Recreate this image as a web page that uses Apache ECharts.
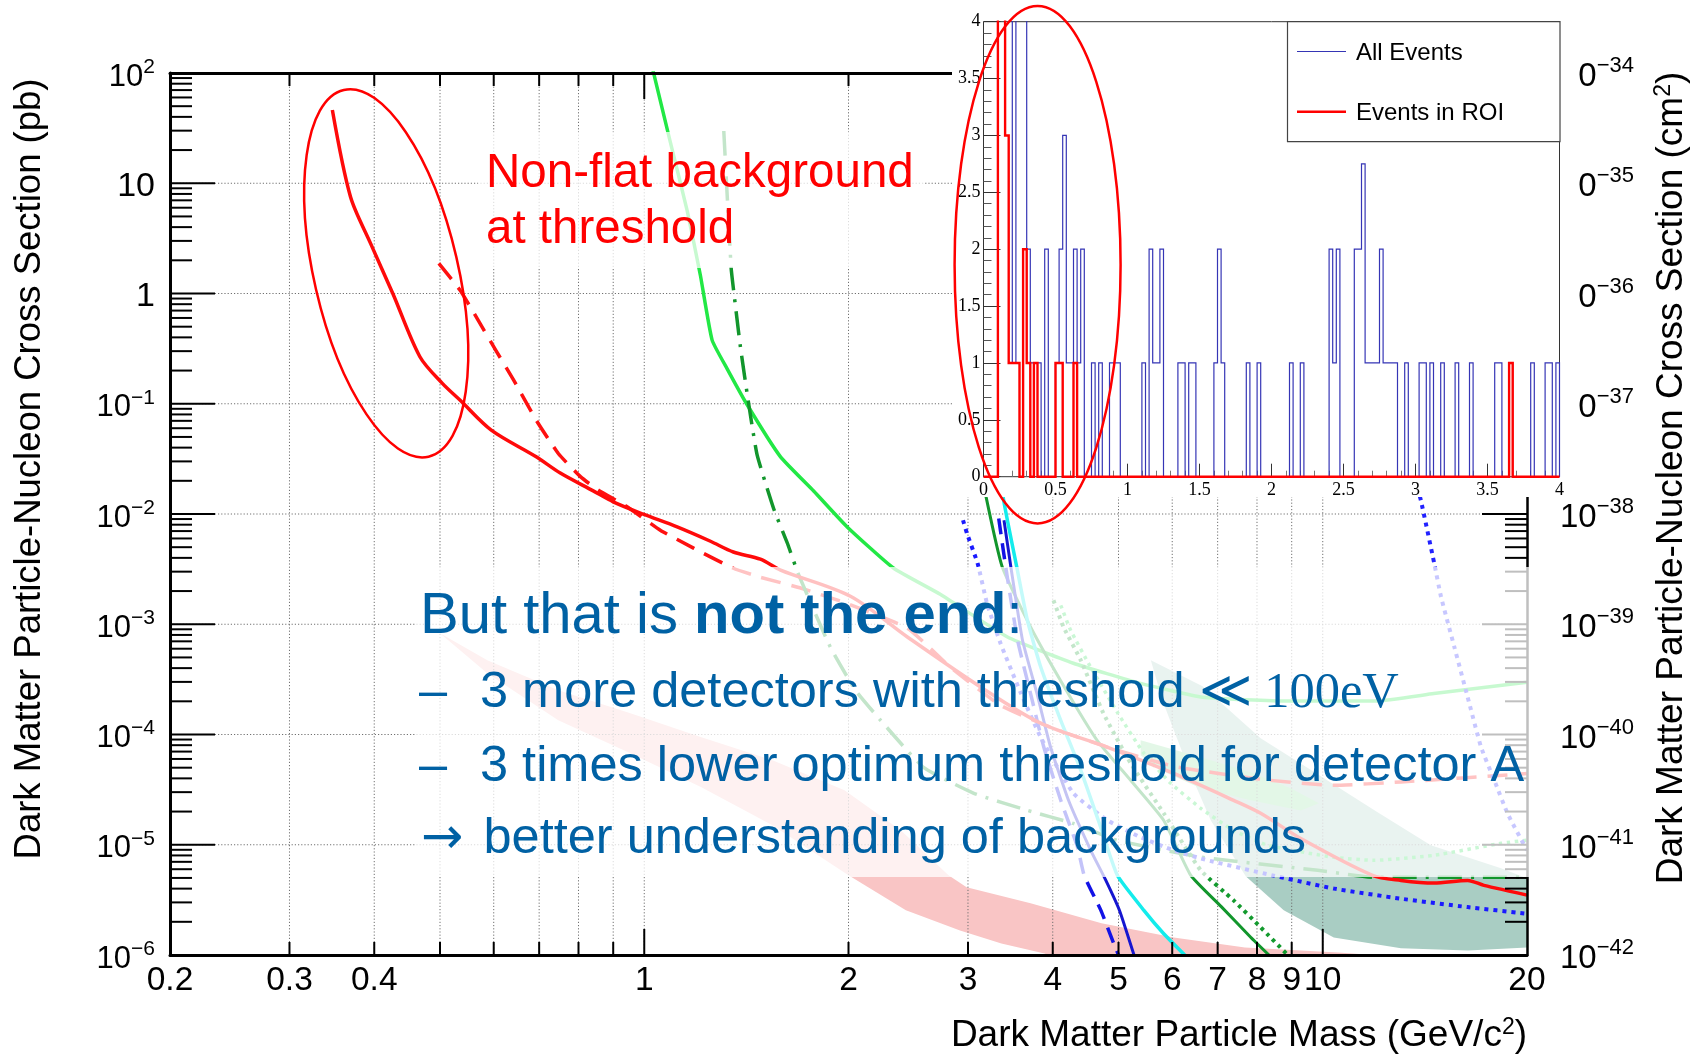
<!DOCTYPE html>
<html>
<head>
<meta charset="utf-8">
<script src="https://cdn.jsdelivr.net/npm/echarts@6/dist/echarts.min.js"></script>
<style>
html, body { margin: 0; padding: 0; background: #ffffff; }
#chart { width: 1701px; height: 1054px; }
</style>
</head>
<body>
<div id="chart"></div>
<script>
// ---------------------------------------------------------------
// Spin-independent exclusion limits: WIMP mass (GeV/c^2) vs
// WIMP-nucleon cross section (pb), plus the low-energy event
// histogram shown as an inset.
// ---------------------------------------------------------------

// solid red limit
const redSolidMass  = [0.347, 0.369, 0.395, 0.426, 0.467, 0.504, 0.535, 0.595, 0.693, 0.752, 0.841, 0.900, 0.997, 1.118, 1.252, 1.353, 1.483, 1.588, 2.013, 2.442, 3.13, 3.84, 4.81, 6.03, 7.39, 8.10, 9.28, 11.84, 13.04, 14.58, 16.35, 17.28, 20.0];
const redSolidSigma = [46.2, 7.54, 2.85, 1.0, 0.267, 0.153, 0.108, 0.0576, 0.033, 0.0235, 0.0162, 0.0129, 0.00996, 0.00764, 0.00566, 0.00452, 0.00389, 0.0031, 0.001795, 0.000767, 0.00027, 0.0001264, 7.7e-5, 4.44e-5, 2.53e-5, 1.93e-5, 1.14e-5, 5.28e-6, 4.75e-6, 4.49e-6, 4.75e-6, 4.28e-6, 3.49e-6];

// dashed red limit
const redDashedMass  = [0.498, 0.535, 0.569, 0.604, 0.642, 0.693, 0.747, 0.806, 0.856, 0.941, 1.056, 1.182, 1.353, 1.483, 1.704, 1.966, 2.442, 2.828, 3.35, 3.97, 4.82, 6.03, 8.10, 10.38, 13.04, 20.0];
const redDashedSigma = [1.876, 1.074, 0.574, 0.3065, 0.1637, 0.071, 0.0354, 0.0217, 0.01644, 0.01177, 0.00713, 0.0049, 0.00322, 0.00267, 0.00212, 0.001584, 0.00092, 0.000407, 0.000184, 0.0001162, 7.65e-5, 5.15e-5, 3.92e-5, 3.46e-5, 3.71e-5, 4.42e-5];

// light green solid limit
const greenSolidMass  = [1.016, 1.093, 1.157, 1.21, 1.259, 1.325, 1.418, 1.588, 1.777, 1.991, 2.332, 2.73, 3.43, 4.29, 5.39, 6.65, 8.91, 11.96, 14.58, 20.0];
const greenSolidSigma = [150, 23.35, 5.62, 1.457, 0.3777, 0.2074, 0.0979, 0.033, 0.01617, 0.00764, 0.00322, 0.00187, 0.000767, 0.000443, 0.000291, 0.000218, 0.000201, 0.000201, 0.000235, 0.000298];

// dark green dash-dotted limit
const greenDashDotMass  = [1.31, 1.343, 1.354, 1.386, 1.426, 1.467, 1.552, 1.626, 1.686, 1.88, 2.048, 2.23, 2.58, 3.06, 3.67, 4.29, 4.97, 6.65, 9.83, 11.96, 20.0];
const greenDashDotSigma = [29.3, 1.70, 1.078, 0.3264, 0.0979, 0.0342, 0.0111, 0.0054, 0.00288, 0.000622, 0.000252, 0.0001346, 5.04e-5, 2.93e-5, 2.05e-5, 1.56e-5, 1.1e-5, 7.69e-6, 5.86e-6, 5.06e-6, 5.06e-6];

// dark green solid limit
const darkGreenMass  = [3.08, 3.19, 3.37, 3.71, 4.16, 4.65, 5.21, 5.83, 6.39, 7.08, 7.83, 8.33];
const darkGreenSigma = [0.0468, 0.01429, 0.00331, 0.000945, 0.00027, 8.86e-5, 3.84e-5, 1.66e-5, 5.28e-6, 2.76e-6, 1.45e-6, 1.0e-6];

// cyan solid limit
const cyanMass  = [3.33, 3.38, 3.54, 3.67, 3.84, 4.11, 4.40, 4.67, 4.98, 5.45, 5.83, 6.26];
const cyanSigma = [0.0468, 0.01429, 0.00331, 0.001087, 0.00041, 0.0001346, 4.73e-5, 1.66e-5, 5.28e-6, 2.54e-6, 1.56e-6, 1.0e-6];

// blue dashed limit
const blueDashedMass  = [3.33, 3.41, 3.55, 3.71, 3.88, 4.11, 4.35, 4.45, 4.71, 4.92, 5.0];
const blueDashedSigma = [0.0091, 0.00331, 0.000716, 0.000235, 7.7e-5, 2.53e-5, 9.53e-6, 5.28e-6, 2.54e-6, 1.27e-6, 1.0e-6];

// blue solid limit
const blueSolidMass  = [3.39, 3.47, 3.61, 3.79, 3.97, 4.22, 4.55, 4.79, 5.02, 5.27];
const blueSolidSigma = [0.00878, 0.00331, 0.000716, 0.000237, 7.7e-5, 2.53e-5, 8.9e-6, 4.75e-6, 2.51e-6, 1.0e-6];

// blue dotted limit (low mass)
const blueDottedMass  = [2.95, 2.99, 3.10, 3.20, 3.35, 3.59, 3.84, 4.29, 4.82, 5.39, 6.03, 6.77, 8.43, 10.39, 13.04, 16.35, 20.0];
const blueDottedSigma = [0.00878, 0.00665, 0.003556, 0.00155, 0.000672, 0.000237, 9.43e-5, 2.93e-5, 1.66e-5, 1.17e-5, 8.9e-6, 7.22e-6, 5.28e-6, 4.0e-6, 3.24e-6, 2.72e-6, 2.37e-6];

// blue dotted limit (high mass)
const blueDotted2Mass  = [13.58, 13.95, 14.6, 14.94, 15.63, 16.35, 17.11, 17.9, 18.73, 20.0];
const blueDotted2Sigma = [0.02496, 0.01334, 0.003556, 0.00177, 0.000622, 0.000219, 7.7e-5, 3.84e-5, 1.91e-5, 8.9e-6];

// dark green dotted limit
const darkGreenDotMass  = [4.01, 4.15, 4.40, 4.75, 5.21, 5.83, 6.61, 7.39, 8.10, 8.88];
const darkGreenDotSigma = [0.00165, 0.00094, 0.000471, 0.0001558, 5.48e-5, 1.93e-5, 5.86e-6, 3.13e-6, 1.78e-6, 1.0e-6];

// light green dotted limit
const greenDotMass  = [4.11, 4.25, 4.55, 4.99, 5.45, 5.97, 6.61, 7.39, 8.30, 10.38, 11.89, 14.58, 18.31, 20.0];
const greenDotSigma = [0.001487, 0.000882, 0.000407, 0.0001558, 6.75e-5, 3.61e-5, 2.14e-5, 1.35e-5, 9.88e-6, 7.69e-6, 7.22e-6, 8.01e-6, 1.03e-5, 1.1e-5];

// shaded regions (outline vertices)
const pinkBandMass  = [0.500, 0.587, 0.747, 0.954, 1.214, 1.545, 1.973, 2.39, 2.808, 2.986, 3.71, 4.72, 6.03, 7.68, 10.53, 13.95, 4.71, 3.89, 3.36, 2.92, 2.43, 2.0, 1.545, 1.214, 0.954, 0.747, 0.587];
const pinkBandSigma = [8.29e-4, 4.71e-4, 2.52e-4, 1.558e-4, 9.43e-5, 5.83e-5, 3.12e-5, 1.35e-5, 5.28e-6, 4.11e-6, 2.94e-6, 1.94e-6, 1.44e-6, 1.17e-6, 1.056e-6, 9.3e-7, 6.5e-7, 1.03e-6, 1.27e-6, 1.67e-6, 2.54e-6, 5.28e-6, 1.5e-5, 3.32e-5, 6.75e-5, 1.346e-4, 3.59e-4];

const tealMass  = [5.58, 6.65, 8.10, 9.83, 11.98, 14.43, 18.31, 20.0, 20.0, 16.37, 13.04, 10.38, 8.76, 7.70, 6.84, 6.39, 5.81];
const tealSigma = [4.71e-4, 2.74e-4, 9.24e-5, 4.35e-5, 2.01e-5, 9.88e-6, 6.11e-6, 4.96e-6, 1.17e-6, 1.1e-6, 1.15e-6, 1.44e-6, 2.54e-6, 5.17e-6, 1.66e-5, 4.35e-5, 2.0e-4];

const greenRegionMass  = [5.39, 6.61, 7.83, 8.97, 9.87, 9.28, 7.83, 6.61, 5.77, 5.39];
const greenRegionSigma = [8.86e-5, 6.21e-5, 4.54e-5, 3.25e-5, 2.38e-5, 2.05e-5, 2.53e-5, 3.25e-5, 4.73e-5, 6.48e-5];

// inset histogram: bin index (width 0.025) and counts
const allEventBins   = [4, 5, 6, 7, 8, 9, 10, 11, 12, 13, 14, 15, 17, 20, 21, 22, 23, 24, 25, 26, 27, 30, 32, 35, 36, 37, 44, 46, 47, 48, 49, 54, 55, 57, 58, 64, 65, 66, 73, 76, 85, 88, 96, 97, 98, 103, 104, 105, 106, 107, 108, 109, 110, 111, 112, 113, 114, 117, 121, 122, 124, 127, 131, 135, 142, 143, 146, 152, 156, 157, 159];
const allEventCounts = [6, 5, 7, 5, 1, 5, 6, 5, 2, 1, 1, 1, 2, 1, 2, 3, 1, 1, 2, 1, 2, 1, 1, 1, 1, 1, 1, 2, 1, 1, 2, 1, 1, 1, 1, 1, 2, 1, 1, 1, 1, 1, 2, 1, 2, 2, 2, 2.75, 1, 1, 1, 1, 2, 1, 1, 1, 1, 1, 1, 1, 1, 1, 1, 1, 1, 1, 1, 1, 1, 1, 1];
const roiBins   = [4, 5, 6, 7, 8, 9, 11, 12, 14, 20, 21, 25, 146];
const roiCounts = [6, 6, 3, 1, 1, 1, 2, 1, 1, 1, 1, 1, 1];

// axis decorations
const xGridValues       = [0.3, 0.4, 0.5, 0.6, 0.7, 0.8, 0.9, 1, 2, 3, 4, 5, 6, 7, 8, 9, 10];
const xMajorTickValues  = [1, 10];
const xTickLabelValues  = [0.2, 0.3, 0.4, 1, 2, 3, 4, 5, 6, 7, 8, 9, 10, 20];
const xTickLabels       = ['0.2', '0.3', '0.4', '1', '2', '3', '4', '5', '6', '7', '8', '9', '10', '20'];
const yDecadeExponents  = [-6, -5, -4, -3, -2, -1, 0, 1, 2];
const yMinorMultipliers = [2, 3, 4, 5, 6, 7, 8, 9];

// ---------------------------------------------------------------
const MASS_MIN = 0.2, MASS_MAX = 20, SIGMA_MIN = 1e-6, SIGMA_MAX = 1e2;
const PB_TO_CM2 = -36;              // 1 pb = 1e-36 cm^2
const HIST_BIN = 0.025, HIST_NBINS = 160;
const FONT = '"Liberation Sans", Arial, Helvetica, sans-serif';
const SERIF = '"Liberation Serif", "DejaVu Serif", "Times New Roman", serif';
const BLUE_TEXT = '#0061a4';
const FADE = 'rgba(255,255,255,0.75)';
const GRID_DOTS = { stroke: '#707070', lineWidth: 1, lineDash: [1.2, 2] };

function pairs(xs, ys) { return xs.map((x, i) => [x, ys[i]]); }

function curve(name, xs, ys, color, width, dash, z, smooth) {
  return {
    type: 'line', name: name, data: pairs(xs, ys), z: z || 4,
    symbol: 'none', showSymbol: false, smooth: smooth == null ? 0.15 : smooth, silent: true, clip: true,
    lineStyle: { color: color, width: width, type: dash || 'solid', cap: 'butt', join: 'round' }
  };
}

function region(name, xs, ys, color, z) {
  return {
    type: 'custom', name: name, z: z, silent: true, clip: true,
    data: [[1, 1]],
    renderItem: function (params, api) {
      const pts = xs.map((x, i) => api.coord([x, ys[i]]));
      return { type: 'polygon', shape: { points: pts }, style: { fill: color } };
    }
  };
}

function histogramSteps(bins, counts) {
  const dense = new Array(HIST_NBINS).fill(0);
  bins.forEach((b, i) => { dense[b] = counts[i]; });
  const pts = [[0, 0]];
  dense.forEach((c, i) => { pts.push([i * HIST_BIN, c], [(i + 1) * HIST_BIN, c]); });
  pts.push([HIST_NBINS * HIST_BIN, 0]);
  return pts;
}

function decadeLabel(v, offset) {
  const e = Math.round(Math.log10(v)) + offset;
  if (e === 0) return '{p|1}';
  if (e === 1) return '{p|10}';
  const s = e < 0 ? '\u2212' + (-e) : String(e);
  return '{b|10}{s|' + s + '}';
}

function labelRich(base, sup, raise) {
  return {
    p: { fontSize: 34, fontFamily: FONT, color: '#000', padding: [7, 0, 0, 0] },
    b: { fontSize: base, fontFamily: FONT, color: '#000', padding: [8, 0, 0, 0] },
    s: { fontSize: sup, fontFamily: FONT, color: '#000', padding: [0, 0, raise, 0] }
  };
}

// y tick list: [mass, sigma, isMajor]
const yTickData = [];
yDecadeExponents.forEach(e => {
  yTickData.push([MASS_MIN, Math.pow(10, e), 1]);
  if (e < 2) yMinorMultipliers.forEach(k => yTickData.push([MASS_MIN, k * Math.pow(10, e), 0]));
});

const option = {
  animation: false,
  backgroundColor: '#ffffff',
  textStyle: { fontFamily: FONT },
  grid: [
    { left: 170, top: 73, width: 1357, height: 882, outerBoundsMode: 'none', containLabel: false },
    { left: 983.5, top: 21.7, width: 576, height: 455, show: true, backgroundColor: '#ffffff',
      borderColor: '#333333', borderWidth: 1, z: 29, outerBoundsMode: 'none', containLabel: false }
  ],
  xAxis: [
    { type: 'log', gridIndex: 0, min: MASS_MIN, max: MASS_MAX, position: 'bottom', z: 10,
      axisLine: { show: true, lineStyle: { color: '#000', width: 3 } },
      axisTick: { show: false }, axisLabel: { show: false }, splitLine: { show: false } },
    { type: 'log', gridIndex: 0, min: MASS_MIN, max: MASS_MAX, position: 'top', z: 10,
      axisLine: { show: true, lineStyle: { color: '#000', width: 3 } },
      axisTick: { show: false }, axisLabel: { show: false }, splitLine: { show: false } },
    { type: 'value', gridIndex: 1, min: 0, max: 4, interval: 0.5, z: 30,
      axisLine: { show: false }, splitLine: { show: false },
      axisTick: { show: true, inside: true, length: 13, lineStyle: { color: '#333', width: 1 } },
      minorTick: { show: true, splitNumber: 5, length: 6, lineStyle: { color: '#777', width: 1 } },
      axisLabel: { margin: 5, fontFamily: SERIF, fontSize: 18, color: '#000' } }
  ],
  yAxis: [
    // pb scale (left)
    { type: 'log', gridIndex: 0, min: SIGMA_MIN, max: SIGMA_MAX, splitNumber: 8, position: 'left', z: 10,
      axisLine: { show: true, lineStyle: { color: '#000', width: 3 } },
      axisTick: { show: false }, splitLine: { show: false },
      axisLabel: { margin: 15, color: '#000', fontFamily: FONT,
                   formatter: v => decadeLabel(v, 0), rich: labelRich(31, 21, 12) } },
    // cm^2 scale (right): same decades shifted by 1e-36
    { type: 'log', gridIndex: 0, min: SIGMA_MIN, max: SIGMA_MAX, splitNumber: 8, position: 'right', z: 10,
      axisLine: { show: true, lineStyle: { color: '#000', width: 2.5 } },
      axisTick: { show: false }, splitLine: { show: false },
      axisLabel: { margin: 33, color: '#000', fontFamily: FONT,
                   formatter: v => decadeLabel(v, PB_TO_CM2), rich: labelRich(33, 22, 14) } },
    { type: 'value', gridIndex: 1, min: 0, max: 4, interval: 0.5, z: 30,
      axisLine: { show: false }, splitLine: { show: false },
      axisTick: { show: true, inside: true, length: 17, lineStyle: { color: '#333', width: 1 } },
      minorTick: { show: true, splitNumber: 5, length: 8, lineStyle: { color: '#555', width: 1 } },
      axisLabel: { margin: 3, fontFamily: SERIF, fontSize: 18, color: '#000' } }
  ],
  series: [
    // shaded regions
    region('band', pinkBandMass, pinkBandSigma, '#f9c5c5', 1),
    region('teal', tealMass, tealSigma, '#a9cdc3', 1),
    region('greenRegion', greenRegionMass, greenRegionSigma, '#8fe0a0', 1),

    // dotted grid
    {
      type: 'custom', name: 'xGrid', z: 2, silent: true, clip: false,
      data: xGridValues.map(v => [v, SIGMA_MIN]),
      renderItem: function (params, api) {
        const m = api.value(0);
        const b = api.coord([m, SIGMA_MIN]), t = api.coord([m, SIGMA_MAX]);
        return { type: 'line', shape: { x1: b[0], y1: b[1], x2: t[0], y2: t[1] }, style: GRID_DOTS };
      }
    },
    {
      type: 'custom', name: 'yGrid', z: 2, silent: true, clip: false,
      data: yDecadeExponents.slice(1, -1).map(e => [MASS_MIN, Math.pow(10, e)]),
      renderItem: function (params, api) {
        const s = api.value(1);
        const l = api.coord([MASS_MIN, s]), r = api.coord([MASS_MAX, s]);
        return { type: 'line', shape: { x1: l[0], y1: l[1], x2: r[0], y2: r[1] }, style: GRID_DOTS };
      }
    },

    // limit curves
    curve('redDashed', redDashedMass, redDashedSigma, '#ff1010', 3.5, [20, 11]),
    curve('greenSolid', greenSolidMass, greenSolidSigma, '#22e845', 3.5),
    curve('greenDashDot', greenDashDotMass, greenDashDotSigma, '#12962c', 3.5, [24, 9, 3, 9]),
    curve('greenDot', greenDotMass, greenDotSigma, '#2ee05a', 3.5, [3.5, 4.5]),
    curve('darkGreenDot', darkGreenDotMass, darkGreenDotSigma, '#139a2e', 4, [3.5, 4.5]),
    curve('darkGreen', darkGreenMass, darkGreenSigma, '#12962c', 3),
    curve('blueDotted', blueDottedMass, blueDottedSigma, '#1a1aff', 4, [4, 5]),
    curve('blueDotted2', blueDotted2Mass, blueDotted2Sigma, '#2222ff', 4, [4, 5]),
    curve('blueSolid', blueSolidMass, blueSolidSigma, '#1616d0', 3),
    curve('blueDashed', blueDashedMass, blueDashedSigma, '#1212e6', 3.5, [16, 9]),
    curve('cyan', cyanMass, cyanSigma, '#14ecec', 3.5),
    curve('redSolid', redSolidMass, redSolidSigma, '#ff0a0a', 3.5, 'solid', 5, 0.3),

    // axis ticks (inside)
    {
      type: 'custom', name: 'xTicks', z: 9, silent: true, clip: false,
      data: xGridValues.map(v => [v, SIGMA_MIN, xMajorTickValues.indexOf(v) >= 0 ? 1 : 0]),
      renderItem: function (params, api) {
        const m = api.value(0), len = api.value(2) ? 26 : 13;
        const b = api.coord([m, SIGMA_MIN]), t = api.coord([m, SIGMA_MAX]);
        const st = { stroke: '#000', lineWidth: 2 };
        return { type: 'group', children: [
          { type: 'line', shape: { x1: b[0], y1: b[1], x2: b[0], y2: b[1] - len }, style: st },
          { type: 'line', shape: { x1: t[0], y1: t[1], x2: t[0], y2: t[1] + len }, style: st }
        ] };
      }
    },
    {
      type: 'custom', name: 'yTicks', z: 9, silent: true, clip: false,
      data: yTickData,
      renderItem: function (params, api) {
        const s = api.value(1), len = api.value(2) ? 45 : 22;
        const l = api.coord([MASS_MIN, s]), r = api.coord([MASS_MAX, s]);
        const st = { stroke: '#000', lineWidth: 2 };
        return { type: 'group', children: [
          { type: 'line', shape: { x1: l[0], y1: l[1], x2: l[0] + len, y2: l[1] }, style: st },
          { type: 'line', shape: { x1: r[0], y1: r[1], x2: r[0] - len, y2: r[1] }, style: st }
        ] };
      }
    },
    {
      type: 'custom', name: 'xLabels', z: 9, silent: true, clip: false,
      data: xTickLabelValues.map((v, i) => [v, SIGMA_MIN, i]),
      renderItem: function (params, api) {
        const p = api.coord([api.value(0), SIGMA_MIN]);
        return { type: 'text', x: p[0], y: p[1] + 26,
                 style: { text: xTickLabels[api.value(2)], fontSize: 33.5, fontFamily: FONT,
                          fill: '#000', align: 'center', verticalAlign: 'middle' } };
      }
    },

    // inset histogram
    {
      type: 'line', name: 'All Events', xAxisIndex: 2, yAxisIndex: 2, z: 31,
      data: histogramSteps(allEventBins, allEventCounts), symbol: 'none', clip: true, silent: true,
      lineStyle: { color: '#3535b5', width: 1.2, join: 'miter' }
    },
    {
      type: 'line', name: 'Events in ROI', xAxisIndex: 2, yAxisIndex: 2, z: 32,
      data: histogramSteps(roiBins, roiCounts), symbol: 'none', clip: true, silent: true,
      lineStyle: { color: '#ff0000', width: 2.4, join: 'miter' }
    }
  ],
  graphic: { elements: [
    // axis titles
    { type: 'text', x: 30, y: 469, rotation: Math.PI / 2, z: 10, silent: true,
      style: { text: 'Dark Matter Particle-Nucleon Cross Section (pb)', fontSize: 36.5, fontFamily: FONT,
               fill: '#000', align: 'center', verticalAlign: 'middle' } },
    { type: 'text', x: 1672, y: 478, rotation: Math.PI / 2, z: 10, silent: true,
      style: { text: 'Dark Matter Particle-Nucleon Cross Section (cm{s|2})', fontSize: 37, fontFamily: FONT,
               fill: '#000', align: 'center', verticalAlign: 'middle',
               rich: { s: { fontSize: 23, fontFamily: FONT, fill: '#000', padding: [0, 0, 16, 0] } } } },
    { type: 'text', x: 1527, y: 1036, z: 10, silent: true,
      style: { text: 'Dark Matter Particle Mass (GeV/c{s|2})', fontSize: 37, fontFamily: FONT,
               fill: '#000', align: 'right', verticalAlign: 'middle',
               rich: { s: { fontSize: 23, fontFamily: FONT, fill: '#000', padding: [0, 0, 16, 0] } } } },

    // annotation near threshold
    { type: 'rect', z: 20, silent: true, shape: { x: 478, y: 132, width: 447, height: 136 }, style: { fill: FADE } },
    { type: 'text', x: 486, y: 173.7, z: 21, silent: true,
      style: { text: 'Non-flat background', fontSize: 47.5, fontFamily: FONT, fill: '#ff0000', align: 'left', verticalAlign: 'middle' } },
    { type: 'text', x: 486, y: 230.4, z: 21, silent: true,
      style: { text: 'at threshold', fontSize: 47.5, fontFamily: FONT, fill: '#ff0000', align: 'left', verticalAlign: 'middle' } },

    // outlook text block
    { type: 'rect', z: 20, silent: true, shape: { x: 415, y: 567, width: 1116, height: 310 }, style: { fill: FADE } },
    { type: 'text', x: 420, y: 616.7, z: 21, silent: true,
      style: { text: '{r|But that is }{b|not the end}{r|:}', fill: BLUE_TEXT, fontSize: 58, fontFamily: FONT,
               align: 'left', verticalAlign: 'middle',
               rich: { r: { fontSize: 58, fontFamily: FONT, fill: BLUE_TEXT },
                       b: { fontSize: 58, fontFamily: FONT, fontWeight: 'bold', fill: BLUE_TEXT } } } },
    { type: 'text', x: 419, y: 693.5, z: 21, silent: true,
      style: { text: '\u2013', fill: BLUE_TEXT, fontSize: 50.5, fontFamily: FONT, align: 'left', verticalAlign: 'middle' } },
    { type: 'text', x: 480, y: 693.5, z: 21, silent: true,
      style: { text: '{a|3 more detectors with threshold }{m|\u226A 100eV}', fill: BLUE_TEXT, fontSize: 50.5, fontFamily: FONT,
               align: 'left', verticalAlign: 'middle',
               rich: { a: { fontSize: 50.5, fontFamily: FONT, fill: BLUE_TEXT },
                       m: { fontSize: 50.5, fontFamily: SERIF, fill: BLUE_TEXT } } } },
    { type: 'text', x: 419, y: 767, z: 21, silent: true,
      style: { text: '\u2013', fill: BLUE_TEXT, fontSize: 50.5, fontFamily: FONT, align: 'left', verticalAlign: 'middle' } },
    { type: 'text', x: 480, y: 767, z: 21, silent: true,
      style: { text: '3 times lower optimum threshold for detector A', fill: BLUE_TEXT, fontSize: 50.5, fontFamily: FONT,
               align: 'left', verticalAlign: 'middle' } },
    { type: 'text', x: 421, y: 839.5, z: 21, silent: true,
      style: { text: '\u2192', fill: BLUE_TEXT, fontSize: 50.5, fontFamily: '"DejaVu Sans", sans-serif', align: 'left', verticalAlign: 'middle' } },
    { type: 'text', x: 483.5, y: 839.5, z: 21, silent: true,
      style: { text: 'better understanding of backgrounds', fill: BLUE_TEXT, fontSize: 50.5, fontFamily: FONT,
               align: 'left', verticalAlign: 'middle' } },

    // inset panel background
    { type: 'rect', z: 28, silent: true, shape: { x: 952, y: 0, width: 626, height: 497 }, style: { fill: '#ffffff' } },

    // inset legend
    { type: 'rect', z: 33, silent: true, shape: { x: 1287.5, y: 21.7, width: 272.5, height: 120 },
      style: { fill: '#ffffff', stroke: '#444444', lineWidth: 1.2 } },
    { type: 'line', z: 34, silent: true, shape: { x1: 1297, y1: 51.5, x2: 1346, y2: 51.5 }, style: { stroke: '#3535b5', lineWidth: 1.2 } },
    { type: 'line', z: 34, silent: true, shape: { x1: 1297, y1: 111.7, x2: 1346, y2: 111.7 }, style: { stroke: '#ff0000', lineWidth: 2.4 } },
    { type: 'text', x: 1356, y: 53, z: 34, silent: true,
      style: { text: 'All Events', fontSize: 24, fontFamily: FONT, fill: '#000', align: 'left', verticalAlign: 'middle' } },
    { type: 'text', x: 1356, y: 113.5, z: 34, silent: true,
      style: { text: 'Events in ROI', fontSize: 24, fontFamily: FONT, fill: '#000', align: 'left', verticalAlign: 'middle' } },

    // highlight ellipses
    { type: 'ellipse', x: 386.2, y: 273.3, rotation: 0.227, z: 40, silent: true,
      shape: { cx: 0, cy: 0, rx: 72, ry: 188.2 }, style: { fill: 'none', stroke: '#ff0000', lineWidth: 2.5 } },
    { type: 'ellipse', x: 1037.6, y: 264.7, z: 40, silent: true,
      shape: { cx: 0, cy: 0, rx: 83, ry: 258.7 }, style: { fill: 'none', stroke: '#ff0000', lineWidth: 2.5 } }
  ] }
};

const chart = echarts.init(document.getElementById('chart'), null, { renderer: 'canvas' });
chart.setOption(option);
</script>
</body>
</html>
